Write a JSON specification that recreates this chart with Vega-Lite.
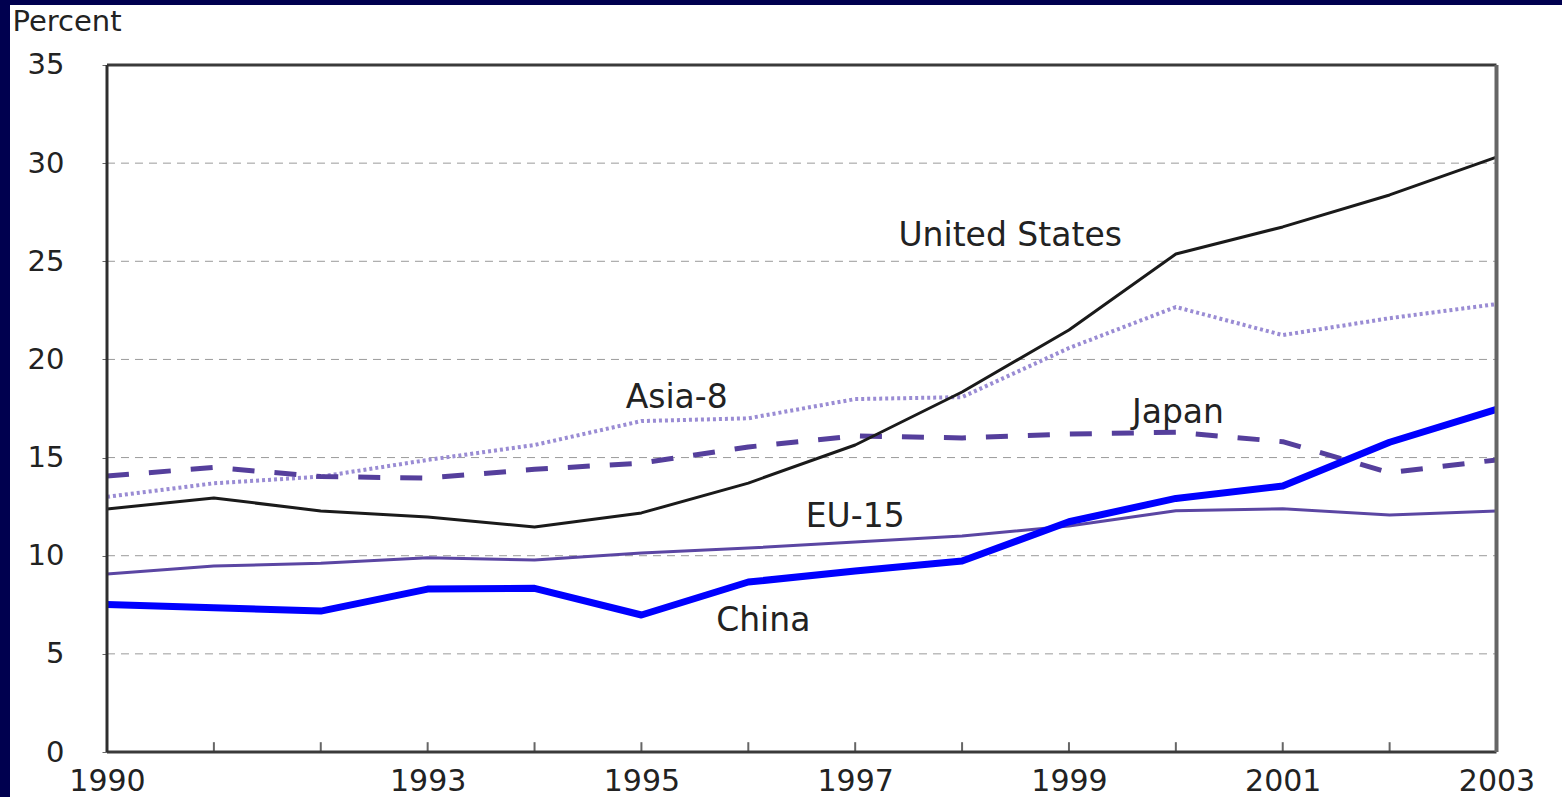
{
  "$schema": "https://vega.github.io/schema/vega-lite/v6.json",
  "width": 1552,
  "height": 792,
  "autosize": {"type": "none"},
  "padding": {"left": 10, "top": 5, "right": 0, "bottom": 0},
  "background": "#00004f",
  "config": {
    "view": {"fill": "white", "stroke": null},
    "font": "DejaVu Sans",
    "axisX": {
      "offset": -45,
      "domain": false,
      "grid": false,
      "ticks": false,
      "labelFont": "DejaVu Sans",
      "labelFontSize": 30,
      "labelColor": "#222222",
      "labelBaseline": "alphabetic",
      "labelPadding": 38,
      "labelFlush": false,
      "labelOverlap": false,
      "labelBound": false
    },
    "axisY": {
      "offset": -97,
      "domain": false,
      "grid": false,
      "ticks": true,
      "tickSize": 5,
      "tickColor": "#666666",
      "tickWidth": 1,
      "labelFont": "DejaVu Sans",
      "labelFontSize": 29,
      "labelColor": "#222222",
      "labelPadding": 38,
      "labelFlush": false,
      "labelOverlap": false,
      "titleFont": "DejaVu Sans",
      "titleFontSize": 29,
      "titleFontWeight": "normal",
      "titleColor": "#222222",
      "titleAngle": 0,
      "titleAlign": "left",
      "titleBaseline": "alphabetic",
      "titleX": -95,
      "titleY": 25
    }
  },
  "datasets": {
    "lines": [
      {"year": 1990, "series": "United States", "value": 12.38},
      {"year": 1991, "series": "United States", "value": 12.94},
      {"year": 1992, "series": "United States", "value": 12.28},
      {"year": 1993, "series": "United States", "value": 11.97},
      {"year": 1994, "series": "United States", "value": 11.46},
      {"year": 1995, "series": "United States", "value": 12.18},
      {"year": 1996, "series": "United States", "value": 13.7},
      {"year": 1997, "series": "United States", "value": 15.64},
      {"year": 1998, "series": "United States", "value": 18.34},
      {"year": 1999, "series": "United States", "value": 21.5},
      {"year": 2000, "series": "United States", "value": 25.37},
      {"year": 2001, "series": "United States", "value": 26.75},
      {"year": 2002, "series": "United States", "value": 28.38},
      {"year": 2003, "series": "United States", "value": 30.31},
      {"year": 1990, "series": "Asia-8", "value": 13.0},
      {"year": 1991, "series": "Asia-8", "value": 13.69},
      {"year": 1992, "series": "Asia-8", "value": 14.03},
      {"year": 1993, "series": "Asia-8", "value": 14.88},
      {"year": 1994, "series": "Asia-8", "value": 15.64},
      {"year": 1995, "series": "Asia-8", "value": 16.86},
      {"year": 1996, "series": "Asia-8", "value": 17.0},
      {"year": 1997, "series": "Asia-8", "value": 17.98},
      {"year": 1998, "series": "Asia-8", "value": 18.08},
      {"year": 1999, "series": "Asia-8", "value": 20.58},
      {"year": 2000, "series": "Asia-8", "value": 22.67},
      {"year": 2001, "series": "Asia-8", "value": 21.24},
      {"year": 2002, "series": "Asia-8", "value": 22.1},
      {"year": 2003, "series": "Asia-8", "value": 22.82},
      {"year": 1990, "series": "Japan", "value": 14.06},
      {"year": 1991, "series": "Japan", "value": 14.5},
      {"year": 1992, "series": "Japan", "value": 14.03},
      {"year": 1993, "series": "Japan", "value": 13.96},
      {"year": 1994, "series": "Japan", "value": 14.4},
      {"year": 1995, "series": "Japan", "value": 14.72},
      {"year": 1996, "series": "Japan", "value": 15.54},
      {"year": 1997, "series": "Japan", "value": 16.1},
      {"year": 1998, "series": "Japan", "value": 16.0},
      {"year": 1999, "series": "Japan", "value": 16.2},
      {"year": 2000, "series": "Japan", "value": 16.29},
      {"year": 2001, "series": "Japan", "value": 15.81},
      {"year": 2002, "series": "Japan", "value": 14.23},
      {"year": 2003, "series": "Japan", "value": 14.88},
      {"year": 1990, "series": "EU-15", "value": 9.07},
      {"year": 1991, "series": "EU-15", "value": 9.48},
      {"year": 1992, "series": "EU-15", "value": 9.61},
      {"year": 1993, "series": "EU-15", "value": 9.9},
      {"year": 1994, "series": "EU-15", "value": 9.78},
      {"year": 1995, "series": "EU-15", "value": 10.14},
      {"year": 1996, "series": "EU-15", "value": 10.39},
      {"year": 1997, "series": "EU-15", "value": 10.7},
      {"year": 1998, "series": "EU-15", "value": 11.0},
      {"year": 1999, "series": "EU-15", "value": 11.51},
      {"year": 2000, "series": "EU-15", "value": 12.29},
      {"year": 2001, "series": "EU-15", "value": 12.39},
      {"year": 2002, "series": "EU-15", "value": 12.07},
      {"year": 2003, "series": "EU-15", "value": 12.28},
      {"year": 1990, "series": "China", "value": 7.52},
      {"year": 1991, "series": "China", "value": 7.35},
      {"year": 1992, "series": "China", "value": 7.18},
      {"year": 1993, "series": "China", "value": 8.3},
      {"year": 1994, "series": "China", "value": 8.34},
      {"year": 1995, "series": "China", "value": 6.98},
      {"year": 1996, "series": "China", "value": 8.66},
      {"year": 1997, "series": "China", "value": 9.22},
      {"year": 1998, "series": "China", "value": 9.73},
      {"year": 1999, "series": "China", "value": 11.73},
      {"year": 2000, "series": "China", "value": 12.92},
      {"year": 2001, "series": "China", "value": 13.55},
      {"year": 2002, "series": "China", "value": 15.78},
      {"year": 2003, "series": "China", "value": 17.46}
    ],
    "grid": [{"v": 5}, {"v": 10}, {"v": 15}, {"v": 20}, {"v": 25}, {"v": 30}],
    "ticks": [{"yr": 1991}, {"yr": 1992}, {"yr": 1993}, {"yr": 1994}, {"yr": 1995}, {"yr": 1996}, {"yr": 1997}, {"yr": 1998}, {"yr": 1999}, {"yr": 2000}, {"yr": 2001}, {"yr": 2002}],
    "frameH": [{"v": 0}, {"v": 35}],
    "frameL": [{"yr": 1990}],
    "frameR": [{"yr": 2003}],
    "labels": [
      {"label": "United States", "year": 1998.45, "value": 26.3},
      {"label": "Asia-8", "year": 1995.33, "value": 18.06},
      {"label": "Japan", "year": 2000.02, "value": 17.29},
      {"label": "EU-15", "year": 1997.0, "value": 11.95},
      {"label": "China", "year": 1996.14, "value": 6.67}
    ]
  },
  "layer": [
    {
      "data": {"name": "grid"},
      "mark": {"type": "rule", "color": "#9a9a9a", "strokeWidth": 1, "strokeDash": [8, 6]},
      "encoding": {
        "y": {"field": "v", "type": "quantitative", "title": "Percent", "scale": {"domain": [-2.2925, 38.0567], "nice": false, "zero": false}, "axis": {"values": [0, 5, 10, 15, 20, 25, 30, 35], "format": "d"}},
        "x": {"datum": 1990, "type": "quantitative", "title": null, "scale": {"domain": [1989.0925, 2003.6128], "nice": false, "zero": false}, "axis": {"values": [1990, 1993, 1995, 1997, 1999, 2001, 2003], "format": "d"}},
        "x2": {"datum": 2003}
      }
    },
    {
      "data": {"name": "ticks"},
      "mark": {"type": "rule", "color": "#666666", "strokeWidth": 2},
      "encoding": {
        "x": {"field": "yr", "type": "quantitative", "title": null},
        "y": {"datum": 0, "type": "quantitative", "title": "Percent"},
        "y2": {"datum": 0.5}
      }
    },
    {
      "data": {"name": "lines"},
      "transform": [{"filter": "datum.series === 'EU-15'"}],
      "mark": {"type": "line", "color": "#5b46a3", "strokeWidth": 3, "strokeJoin": "round"},
      "encoding": {
        "x": {"field": "year", "type": "quantitative", "title": null},
        "y": {"field": "value", "type": "quantitative", "title": "Percent"}
      }
    },
    {
      "data": {"name": "lines"},
      "transform": [{"filter": "datum.series === 'Asia-8'"}],
      "mark": {"type": "line", "color": "#9a8cd4", "strokeWidth": 4, "strokeDash": [3, 3], "strokeJoin": "round"},
      "encoding": {
        "x": {"field": "year", "type": "quantitative", "title": null},
        "y": {"field": "value", "type": "quantitative", "title": "Percent"}
      }
    },
    {
      "data": {"name": "lines"},
      "transform": [{"filter": "datum.series === 'Japan'"}],
      "mark": {"type": "line", "color": "#553f9c", "strokeWidth": 5, "strokeDash": [22, 20], "strokeJoin": "round"},
      "encoding": {
        "x": {"field": "year", "type": "quantitative", "title": null},
        "y": {"field": "value", "type": "quantitative", "title": "Percent"}
      }
    },
    {
      "data": {"name": "lines"},
      "transform": [{"filter": "datum.series === 'United States'"}],
      "mark": {"type": "line", "color": "#1a1a1a", "strokeWidth": 3, "strokeJoin": "round"},
      "encoding": {
        "x": {"field": "year", "type": "quantitative", "title": null},
        "y": {"field": "value", "type": "quantitative", "title": "Percent"}
      }
    },
    {
      "data": {"name": "lines"},
      "transform": [{"filter": "datum.series === 'China'"}],
      "mark": {"type": "line", "color": "#0000ff", "strokeWidth": 7, "strokeJoin": "round"},
      "encoding": {
        "x": {"field": "year", "type": "quantitative", "title": null},
        "y": {"field": "value", "type": "quantitative", "title": "Percent"}
      }
    },
    {
      "data": {"name": "frameH"},
      "mark": {"type": "rule", "color": "#3a3a3a", "strokeWidth": 3},
      "encoding": {
        "y": {"field": "v", "type": "quantitative", "title": "Percent"},
        "x": {"datum": 1990, "type": "quantitative", "title": null},
        "x2": {"datum": 2003}
      }
    },
    {
      "data": {"name": "frameL"},
      "mark": {"type": "rule", "color": "#2e2e2e", "strokeWidth": 3},
      "encoding": {
        "x": {"field": "yr", "type": "quantitative", "title": null},
        "y": {"datum": 0, "type": "quantitative", "title": "Percent"},
        "y2": {"datum": 35}
      }
    },
    {
      "data": {"name": "frameR"},
      "mark": {"type": "rule", "color": "#666666", "strokeWidth": 4},
      "encoding": {
        "x": {"field": "yr", "type": "quantitative", "title": null},
        "y": {"datum": 0, "type": "quantitative", "title": "Percent"},
        "y2": {"datum": 35}
      }
    },
    {
      "data": {"name": "labels"},
      "mark": {"type": "text", "font": "DejaVu Sans", "fontSize": 33, "color": "#222222", "align": "center", "baseline": "middle"},
      "encoding": {
        "x": {"field": "year", "type": "quantitative", "title": null},
        "y": {"field": "value", "type": "quantitative", "title": "Percent"},
        "text": {"field": "label"}
      }
    }
  ]
}
